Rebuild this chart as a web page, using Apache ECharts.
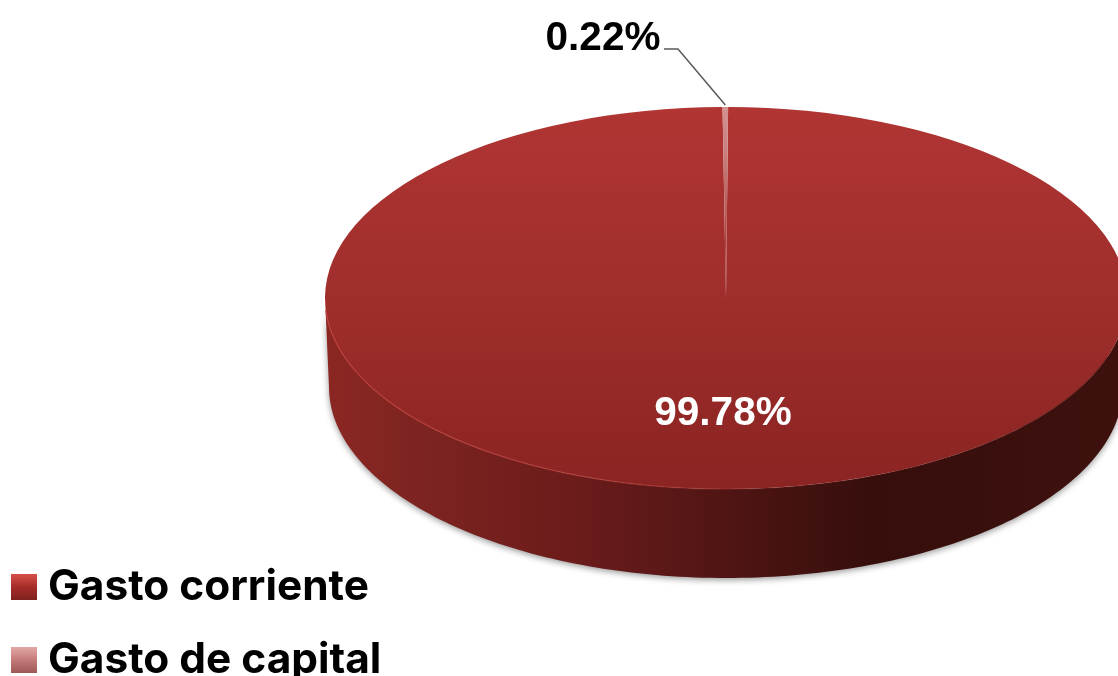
<!DOCTYPE html>
<html><head><meta charset="utf-8">
<style>html,body{margin:0;padding:0;background:#fff}#c{width:1118px;height:676px}</style>
<script src="https://cdn.jsdelivr.net/npm/echarts@6/dist/echarts.min.js"></script>
</head><body><div id="c"></div>
<script>
const categories = ['Gasto corriente', 'Gasto de capital'];
const values = [99.78, 0.22];

const FONT = 'Inter, "Open Sans", sans-serif';
const LABEL_FONT = '"Liberation Sans", Arial, sans-serif';
const pie = { cx: 726, cy: 298, rx: 401, ry: 191, depth: 89, start: 0.3, baseInset: 4 };
const total = values.reduce((a, b) => a + b, 0);
const grad = (x, y, x2, y2, stops) => new echarts.graphic.LinearGradient(x, y, x2, y2,
  stops.map(s => ({ offset: s[0], color: s[1] })));

const topFill = grad(0, 0, 0, 1, [[0, '#b03533'], [0.5, '#9f2e2c'], [1, '#8a2422']]);
const capFill = grad(0, 0, 0, 1, [[0, '#d39492'], [0.45, '#bd6a68'], [0.84, '#a22f2d'], [1, '#9f2e2c']]);
const wallFill = grad(0, 0, 1, 0, [[0, '#8b2723'], [0.12, '#7d2420'], [0.3, '#6c1c1b'], [0.45, '#571716'],
  [0.68, '#360e0c'], [1, '#3e110e']]);
const bevel = grad(0, 0, 1, 0, [[0, 'rgba(190,62,56,0.8)'], [0.4, 'rgba(180,58,54,0.6)'], [0.62, 'rgba(150,45,42,0.2)'], [1, 'rgba(90,20,18,0.5)']]);
const legendFills = [
  grad(0, 0, 0, 1, [[0, '#d84f49'], [0.5, '#a52d2a'], [1, '#80211f']]),
  grad(0, 0, 0, 1, [[0, '#e2a8a6'], [0.5, '#c47a78'], [1, '#9d5856']])
];

function rimPoints(a0, a1, dy, inset) {
  const pts = [], n = 160, rx = pie.rx - (inset || 0);
  for (let i = 0; i <= n; i++) {
    const a = a0 + (a1 - a0) * i / n;
    pts.push([pie.cx + rx * Math.cos(a), pie.cy + dy + pie.ry * Math.sin(a)]);
  }
  return pts;
}

function renderSlice(params, api) {
  const idx = params.seriesIndex;
  const v = api.value(0);
  const before = values.slice(0, idx).reduce((a, b) => a + b, 0);
  const a0 = -Math.PI / 2 + pie.start * Math.PI / 180 + before / total * 2 * Math.PI;
  const a1 = a0 + v / total * 2 * Math.PI;
  const label = v.toFixed(2) + '%';
  const children = [];
  if (idx === 0) {
    const front = rimPoints(0, Math.PI, 0);
    const wall = front.concat(rimPoints(Math.PI, 0, pie.depth, pie.baseInset));
    children.push({
      type: 'polygon', shape: { points: wall },
      style: { fill: wallFill, shadowBlur: 6, shadowColor: 'rgba(0,0,0,0.4)', shadowOffsetY: 2 }
    });
  }
  children.push({
    type: 'sector', x: pie.cx, y: pie.cy, scaleY: pie.ry / pie.rx,
    shape: { cx: 0, cy: 0, r: pie.rx, r0: 0, startAngle: a0, endAngle: a1, clockwise: true },
    style: { fill: idx === 0 ? topFill : capFill }
  });
  if (idx === 0) {
    children.push({
      type: 'polyline', shape: { points: rimPoints(Math.PI * 0.98, Math.PI * 0.1, 0) },
      style: { fill: null, stroke: bevel, lineWidth: 1.4 }
    });
    children.push({
      type: 'text',
      style: { text: label, x: 723, y: 414, align: 'center', verticalAlign: 'middle',
        fill: '#ffffff', font: 'bold 40.5px ' + LABEL_FONT }
    });
  } else {
    const mid = (a0 + a1) / 2;
    const ex = pie.cx + pie.rx * Math.cos(mid), ey = pie.cy + pie.ry * Math.sin(mid);
    children.push({
      type: 'polyline', shape: { points: [[664, 49], [678, 49], [ex, ey - 2]] },
      style: { fill: null, stroke: '#595959', lineWidth: 1.5 }
    });
    children.push({
      type: 'text',
      style: { text: label, x: 603, y: 39, align: 'center', verticalAlign: 'middle',
        fill: '#000000', font: 'bold 40.5px ' + LABEL_FONT }
    });
  }
  return { type: 'group', children };
}

const chart = echarts.init(document.getElementById('c'), null, { renderer: 'canvas' });
chart.setOption({
  animation: false,
  backgroundColor: '#ffffff',
  legend: {
    orient: 'vertical', left: 11, top: 566, height: 200, padding: 0,
    icon: 'rect', itemWidth: 26, itemHeight: 26, itemGap: 31,
    selectedMode: false,
    textStyle: { color: '#000', fontFamily: FONT, fontWeight: 'bold', fontSize: 42.4, lineHeight: 30, padding: [0, 0, 0, 6] },
    data: categories.map((name, i) => ({ name, itemStyle: { color: legendFills[i] } }))
  },
  series: categories.map((name, i) => ({
    type: 'custom', name, coordinateSystem: 'none', silent: true,
    itemStyle: { color: legendFills[i] },
    renderItem: renderSlice,
    data: [values[i]]
  }))
});
</script></body></html>
